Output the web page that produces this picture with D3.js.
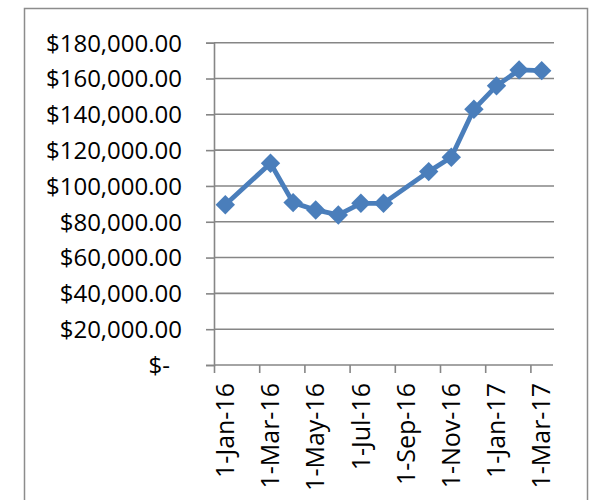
<!DOCTYPE html>
<html><head><meta charset="utf-8">
<script src="https://cdn.jsdelivr.net/npm/d3@7"></script>
<style>body{margin:0;background:#fff;}svg{display:block;}</style>
</head><body>
<script>
const dates = ["2016-01","2016-03","2016-04","2016-05","2016-06","2016-07","2016-08","2016-10","2016-11","2016-12","2017-01","2017-02","2017-03"];
const values = [89500,112700,90700,86600,83800,90300,90300,108000,116000,142800,155900,164800,164400];
const tickLabels = ["1-Jan-16","1-Mar-16","1-May-16","1-Jul-16","1-Sep-16","1-Nov-16","1-Jan-17","1-Mar-17"];
const yTicks = [0,20000,40000,60000,80000,100000,120000,140000,160000,180000];

const W = 591, H = 500;
const svg = d3.select("body").append("svg").attr("width", W).attr("height", H);
const font = "'Open Sans', sans-serif";

svg.append("rect").attr("x",24.5).attr("y",8.5).attr("width",563).attr("height",520)
  .attr("fill","#fff").attr("stroke","#8c8c8c").attr("stroke-width",1.5);

const monthIndex = s => { const [y,m] = s.split("-").map(Number); return (y-2016)*12 + (m-1); };
const x = d3.scaleLinear().domain([0,15]).range([214,553]);
const y = d3.scaleLinear().domain([0,180000]).range([365,42.7]);

// gridlines
svg.append("g").selectAll("line").data(yTicks.slice(1)).join("line")
  .attr("x1",214).attr("x2",554).attr("y1",d=>y(d)).attr("y2",d=>y(d))
  .attr("stroke","#868686").attr("stroke-width",1.6);

// y axis
const yAxis = d3.axisLeft(y).tickValues(yTicks).tickSize(8)
  .tickFormat(d => d===0 ? "$-" : d3.format("$,.2f")(d));
const gy = svg.append("g").attr("transform","translate(214,0)").call(yAxis);
gy.select(".domain").attr("stroke","#868686").attr("stroke-width",1.6);
gy.selectAll(".tick line").attr("stroke","#868686").attr("stroke-width",1.6);
gy.selectAll("text").attr("font-family",font).attr("font-size",24).attr("fill","#000")
  .attr("x",-32).attr("dy","0.35em").attr("text-anchor","end");
gy.selectAll(".tick").filter(d=>d===0).select("text").attr("x",-44);

// x axis ticks (every 2 months at month starts)
const tickIdx = d3.range(0,16,2);
const xAxis = d3.axisBottom(x).tickValues(tickIdx).tickSize(8).tickFormat("");
const gx = svg.append("g").attr("transform","translate(0,365)").call(xAxis);
gx.select(".domain").attr("stroke","#868686").attr("stroke-width",1.6).attr("d","M214,0H553");
gx.selectAll(".tick line").attr("stroke","#868686").attr("stroke-width",1.6);

// x labels at month centres
svg.append("g").selectAll("text").data(tickLabels).join("text")
  .attr("transform",(d,i)=>`translate(${x(tickIdx[i]+0.5)},383) rotate(-90)`)
  .attr("text-anchor","end").attr("dy","0.35em")
  .attr("font-family",font).attr("font-size",25).attr("fill","#000")
  .text(d=>d);

// line + markers
const pts = dates.map((d,i)=>[x(monthIndex(d)+0.5), y(values[i])]);
svg.append("path").datum(pts).attr("d",d3.line())
  .attr("fill","none").attr("stroke","#4a7ebb").attr("stroke-width",4.8).attr("stroke-linejoin","round");
svg.append("g").selectAll("path").data(pts).join("path")
  .attr("d",d3.symbol(d3.symbolDiamond2 || d3.symbolDiamond, 240))
  .attr("transform",d=>`translate(${d[0]},${d[1]})`)
  .attr("fill","#4a7ebb");
</script>
</body></html>
